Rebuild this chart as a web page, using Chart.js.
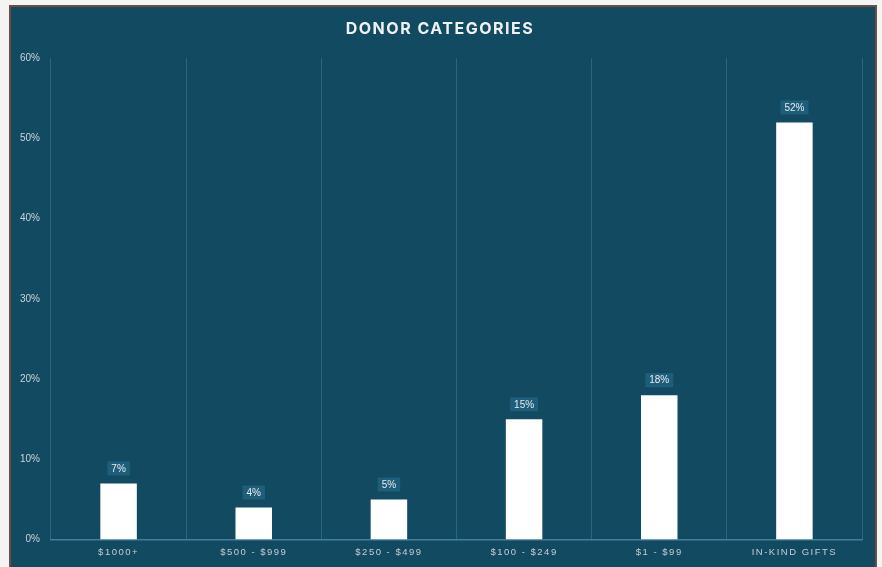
<!DOCTYPE html>
<html>
<head>
<meta charset="utf-8">
<script src="https://cdn.jsdelivr.net/npm/chart.js@4"></script>
<style>
  html, body { margin: 0; padding: 0; background: #f4f4f4; }
  #box {
    position: absolute; left: 9px; top: 5px;
    width: 864px; height: 564px;
    border: 2px solid #6e4d43; border-bottom: none;
    background: #124a62;
  }
  #chart { display: block; }
</style>
</head>
<body>
<div id="box"><canvas id="chart" width="864" height="564"></canvas></div>
<script>
var categories = ['$1000+', '$500 - $999', '$250 - $499', '$100 - $249', '$1 - $99', 'IN-KIND GIFTS'];
var shares = [7, 4, 5, 15, 18, 52];
var yTicks = [0, 10, 20, 30, 40, 50, 60];

// little boxed labels above each bar
var valueLabels = {
    id: 'valueLabels',
    afterDatasetsDraw: function (chart) {
        var ctx = chart.ctx;
        var meta = chart.getDatasetMeta(0);
        ctx.save();
        ctx.letterSpacing = '0px';
        ctx.font = '10px "Liberation Sans", Arial, sans-serif';
        ctx.textAlign = 'center';
        ctx.textBaseline = 'middle';
        meta.data.forEach(function (bar, i) {
            var txt = shares[i] + '%';
            var w = ctx.measureText(txt).width + 8;
            var h = 14;
            var cy = bar.y - 8 - h / 2;
            ctx.fillStyle = '#1f5e7b';
            ctx.fillRect(bar.x - w / 2, cy - h / 2, w, h);
            ctx.fillStyle = '#e4ecf0';
            ctx.fillText(txt, bar.x, cy + 0.5);
        });
        ctx.restore();
    }
};

// spaced letters for title and x labels, plain for y labels
var spacing = {
    id: 'spacing',
    beforeDraw: function (chart) {
        chart.ctx.letterSpacing = '1.5px';
        var y = chart.scales.y;
        if (!y._plainWrap) {
            var orig = y.drawLabels;
            y.drawLabels = function (area) {
                var c = this.ctx;
                var prev = c.letterSpacing;
                c.letterSpacing = '0px';
                orig.call(this, area);
                c.letterSpacing = prev;
            };
            y._plainWrap = true;
        }
    }
};

new Chart(document.getElementById('chart'), {
    type: 'bar',
    data: {
        labels: categories,
        datasets: [{
            data: shares,
            backgroundColor: '#ffffff',
            borderWidth: 0,
            categoryPercentage: 1,
            barPercentage: 0.27
        }]
    },
    options: {
        responsive: false,
        animation: false,
        layout: { padding: { left: 7, right: 13, bottom: 6 } },
        plugins: {
            legend: { display: false },
            tooltip: { enabled: false },
            title: {
                display: true,
                text: 'DONOR CATEGORIES',
                color: '#eef2f4',
                font: { family: 'Inter, "Open Sans", sans-serif', size: 16, weight: 'bold' },
                padding: { top: 13, bottom: 19 }
            }
        },
        scales: {
            x: {
                offset: true,
                grid: { display: true, offset: true, color: '#2c6582', lineWidth: 1, drawTicks: false },
                border: { display: true, color: '#3f7f9e', width: 1.5 },
                ticks: {
                    color: '#c3cdd4',
                    font: { family: '"Liberation Sans", Arial, sans-serif', size: 9.5 },
                    padding: 7,
                    maxRotation: 0
                }
            },
            y: {
                min: 0,
                max: 60,
                afterBuildTicks: function (scale) {
                    scale.ticks = yTicks.map(function (v) { return { value: v }; });
                },
                afterFit: function (scale) {
                    scale.width = 33;
                },
                grid: { display: false, drawTicks: false },
                border: { display: false },
                ticks: {
                    color: '#c9d3da',
                    font: { family: '"Liberation Sans", Arial, sans-serif', size: 10 },
                    padding: 11,
                    callback: function (v) { return v + '%'; }
                }
            }
        }
    },
    plugins: [spacing, valueLabels]
});
</script>
</body>
</html>
